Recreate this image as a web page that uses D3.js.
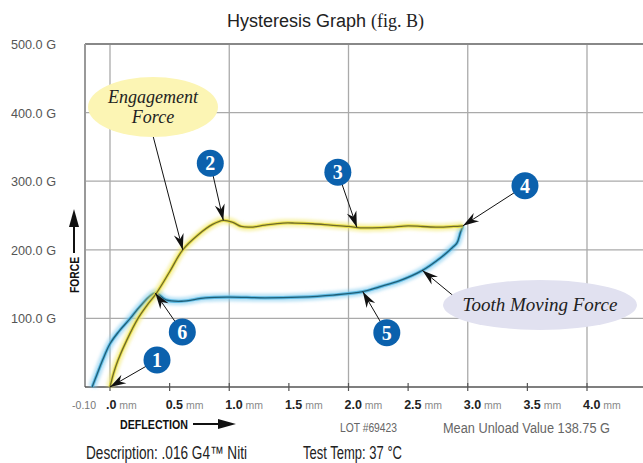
<!DOCTYPE html>
<html><head><meta charset="utf-8">
<script src="https://cdn.jsdelivr.net/npm/d3@7"></script>
<style>body{margin:0;background:#fff}svg{display:block}</style>
</head><body>
<svg id="chart" width="643" height="463"></svg>
<script>
// Loading curve (wire engaging) and unloading curve (tooth moving force)
const loadDeflection = [0, 0.03, 0.067, 0.14, 0.235, 0.31, 0.39, 0.50, 0.61, 0.74, 0.86, 0.95, 1.03, 1.10, 1.18, 1.30, 1.45, 1.55, 1.70, 1.85, 2.00, 2.10, 2.20, 2.35, 2.50, 2.62, 2.75, 2.88, 2.96];
const loadForce      = [0, 20, 39, 68, 100, 119, 137, 168, 200, 222, 237, 243, 240, 234, 233, 236, 239, 239, 238, 236, 234, 232, 232, 233, 235, 234, 233, 234, 235];

const unloadDeflection = [2.96, 2.94, 2.91, 2.87, 2.77, 2.62, 2.43, 2.26, 2.12, 1.87, 1.59, 1.30, 1.00, 0.80, 0.60, 0.47, 0.38, 0.25, 0.17, 0.07, 0.0, -0.06, -0.11, -0.15];
const unloadForce      = [235, 226, 210, 203, 188, 170, 155, 146, 139, 134, 131, 130, 131, 130, 125, 127, 137, 117, 100, 80, 63, 40, 18, 0];

const xTicks = [0, 0.5, 1.0, 1.5, 2.0, 2.5, 3.0, 3.5, 4.0];
const xTickLabels = [".0", "0.5", "1.0", "1.5", "2.0", "2.5", "3.0", "3.5", "4.0"];
const xGrid = [0, 1, 2, 3, 4];
const yTicks = [100, 200, 300, 400, 500];
const yTickLabels = ["100.0 G", "200.0 G", "300.0 G", "400.0 G", "500.0 G"];

// numbered callouts: target point on a curve (deflection, force) + badge offset in px
const calloutNumbers = ["1", "2", "3", "4", "5", "6"];
const calloutTargets = [[0, 0], [0.95, 243], [2.07, 233], [2.96, 235], [2.12, 139], [0.38, 137]];
const calloutOffsets = [[47, -27], [-13, -57], [-19, -55], [62, -40], [24, 41], [27, 39]];

const svg = d3.select("#chart");
const x = d3.scaleLinear().domain([0, 4]).range([110, 587]);
const y = d3.scaleLinear().domain([0, 500]).range([387, 44]);
const left = 85, right = 643;

const defs = svg.append("defs");
const blur = defs.append("filter").attr("id", "glow").attr("x", "-10%").attr("y", "-10%").attr("width", "120%").attr("height", "120%");
blur.append("feGaussianBlur").attr("stdDeviation", 1.6);
defs.append("marker").attr("id", "arrow").attr("markerUnits", "userSpaceOnUse")
  .attr("viewBox", "-17 -6 18 12").attr("markerWidth", 18).attr("markerHeight", 12)
  .attr("refX", 0).attr("refY", 0).attr("orient", "auto")
  .append("path").attr("d", "M0,0 L-16,-5 L-11,0 L-16,5 Z").attr("fill", "#111");

// grid
const grid = svg.append("g");
grid.selectAll("line.h").data(yTicks.slice(0, -1)).join("line")
  .attr("x1", left).attr("x2", right).attr("y1", d => y(d)).attr("y2", d => y(d))
  .attr("stroke", "#aaa").attr("stroke-width", 1.3);
grid.selectAll("line.v").data(xGrid).join("line")
  .attr("x1", d => x(d)).attr("x2", d => x(d)).attr("y1", y(500)).attr("y2", y(0))
  .attr("stroke", "#aaa").attr("stroke-width", 1.3);
// frame
grid.append("line").attr("x1", left).attr("x2", right).attr("y1", y(500)).attr("y2", y(500)).attr("stroke", "#888").attr("stroke-width", 2);
grid.append("line").attr("x1", left).attr("x2", left).attr("y1", y(500)).attr("y2", y(0)).attr("stroke", "#999").attr("stroke-width", 2);
grid.append("line").attr("x1", left).attr("x2", right).attr("y1", y(0)).attr("y2", y(0)).attr("stroke", "#555").attr("stroke-width", 1.5);
grid.selectAll("line.t").data(xTicks).join("line")
  .attr("x1", d => x(d)).attr("x2", d => x(d)).attr("y1", y(0) - 4).attr("y2", y(0) + 4)
  .attr("stroke", "#555").attr("stroke-width", 1.2);

// y labels
svg.append("g").selectAll("text").data(yTicks).join("text")
  .attr("x", 56).attr("y", d => y(d) + 5).attr("text-anchor", "end")
  .attr("font-family", "Liberation Sans, Arial, sans-serif").attr("font-size", 13.5)
  .attr("fill", "#555").attr("textLength", 45).attr("lengthAdjust", "spacingAndGlyphs")
  .text((d, i) => yTickLabels[i]);

// x labels
const xl = svg.append("g").selectAll("text").data(xTicks).join("text")
  .attr("x", d => x(d) - 4).attr("y", 409)
  .attr("font-family", "Liberation Sans, Arial, sans-serif");
xl.append("tspan").attr("font-weight", "bold").attr("font-size", 12.5).attr("fill", "#222").text((d, i) => xTickLabels[i]);
xl.append("tspan").attr("font-size", 10.5).attr("fill", "#888").text(" mm");
svg.append("text").attr("x", 96).attr("y", 409).attr("text-anchor", "end")
  .attr("font-family", "Liberation Sans, Arial, sans-serif").attr("font-size", 10.5).attr("fill", "#777").text("-0.10");

// curves
const line = d3.line().x(d => x(d[0])).y(d => y(d[1])).curve(d3.curveCatmullRom.alpha(0.5));
const loadPts = loadDeflection.map((d, i) => [d, loadForce[i]]);
const unloadPts = unloadDeflection.map((d, i) => [d, unloadForce[i]]);
function drawCurve(pts, glow, mid, core) {
  const g = svg.append("g");
  g.append("path").attr("d", line(pts)).attr("fill", "none").attr("stroke", glow).attr("stroke-width", 8)
    .attr("stroke-opacity", 0.55).attr("filter", "url(#glow)").attr("stroke-linejoin", "round");
  g.append("path").attr("d", line(pts)).attr("fill", "none").attr("stroke", mid).attr("stroke-width", 3.2)
    .attr("stroke-opacity", 0.85).attr("stroke-linejoin", "round");
  g.append("path").attr("d", line(pts)).attr("fill", "none").attr("stroke", core).attr("stroke-width", 1.3)
    .attr("stroke-linejoin", "round");
}
drawCurve(unloadPts, "#7fcbef", "#4fb4e0", "#1f5f78");
drawCurve(loadPts, "#f2ea70", "#e5dc3c", "#6f6a28");

// named callouts
function bubble(cx, cy, rx, ry, fill, lines, fontSize, lineFrom, target) {
  svg.append("line").attr("x1", lineFrom[0]).attr("y1", lineFrom[1])
    .attr("x2", x(target[0])).attr("y2", y(target[1]))
    .attr("stroke", "#111").attr("stroke-width", 1).attr("marker-end", "url(#arrow)");
  svg.append("ellipse").attr("cx", cx).attr("cy", cy).attr("rx", rx).attr("ry", ry).attr("fill", fill);
  lines.forEach((t, i) => {
    svg.append("text").attr("x", cx).attr("y", cy + (i - (lines.length - 1) / 2) * 20 + 6)
      .attr("text-anchor", "middle").attr("font-family", "Liberation Serif, Times New Roman, serif")
      .attr("font-style", "italic").attr("font-size", fontSize).attr("fill", "#222").text(t);
  });
}
bubble(153, 107, 65, 30, "#fcf5b4", ["Engagement", "Force"], 18, [152, 132], [0.61, 200]);
bubble(540, 305, 97, 25, "#e1e1f0", ["Tooth Moving Force"], 19, [456, 298], [2.62, 170]);

// numbered badges
calloutNumbers.forEach((n, i) => {
  const tx = x(calloutTargets[i][0]), ty = y(calloutTargets[i][1]);
  const cx = tx + calloutOffsets[i][0], cy = ty + calloutOffsets[i][1];
  const ang = Math.atan2(ty - cy, tx - cx);
  svg.append("line").attr("x1", cx + 12 * Math.cos(ang)).attr("y1", cy + 12 * Math.sin(ang))
    .attr("x2", tx).attr("y2", ty).attr("stroke", "#111").attr("stroke-width", 1).attr("marker-end", "url(#arrow)");
  svg.append("circle").attr("cx", cx).attr("cy", cy).attr("r", 13.5).attr("fill", "#0b61ad");
  svg.append("text").attr("x", cx).attr("y", cy + 7).attr("text-anchor", "middle")
    .attr("font-family", "Liberation Serif, Times New Roman, serif").attr("font-weight", "bold")
    .attr("font-size", 20).attr("fill", "#fff").text(n);
});

// axis titles with arrows
svg.append("text").attr("transform", "translate(79,293) rotate(-90)")
  .attr("font-family", "Liberation Sans, Arial, sans-serif").attr("font-weight", "bold").attr("font-size", 12)
  .attr("fill", "#111").attr("textLength", 36).attr("lengthAdjust", "spacingAndGlyphs").text("FORCE");
svg.append("line").attr("x1", 74).attr("x2", 74).attr("y1", 253).attr("y2", 224).attr("stroke", "#111").attr("stroke-width", 2);
svg.append("path").attr("d", "M74,209 L69,227 L79,227 Z").attr("fill", "#111");
svg.append("text").attr("x", 120).attr("y", 429)
  .attr("font-family", "Liberation Sans, Arial, sans-serif").attr("font-weight", "bold").attr("font-size", 12)
  .attr("fill", "#111").attr("textLength", 68).attr("lengthAdjust", "spacingAndGlyphs").text("DEFLECTION");
svg.append("line").attr("x1", 193).attr("x2", 220).attr("y1", 424).attr("y2", 424).attr("stroke", "#111").attr("stroke-width", 2);
svg.append("path").attr("d", "M236,424 L218,419 L218,429 Z").attr("fill", "#111");

// title
const title = svg.append("text").attr("x", 227).attr("y", 27).attr("fill", "#222");
title.append("tspan").attr("font-family", "Liberation Sans, Arial, sans-serif").attr("font-size", 18).text("Hysteresis Graph ");
title.append("tspan").attr("font-family", "Liberation Serif, Times New Roman, serif").attr("font-size", 18).text("(fig. B)");

// footer
svg.append("text").attr("x", 340).attr("y", 432).attr("font-family", "Liberation Sans, Arial, sans-serif")
  .attr("font-size", 12).attr("fill", "#666").attr("textLength", 57).attr("lengthAdjust", "spacingAndGlyphs").text("LOT #69423");
svg.append("text").attr("x", 443).attr("y", 433).attr("font-family", "Liberation Sans, Arial, sans-serif")
  .attr("font-size", 14).attr("fill", "#666").attr("textLength", 167).attr("lengthAdjust", "spacingAndGlyphs").text("Mean Unload Value 138.75 G");
svg.append("text").attr("x", 86).attr("y", 459).attr("font-family", "Liberation Sans, Arial, sans-serif")
  .attr("font-size", 18).attr("fill", "#222").attr("textLength", 161).attr("lengthAdjust", "spacingAndGlyphs").text("Description: .016 G4™ Niti");
svg.append("text").attr("x", 303).attr("y", 459).attr("font-family", "Liberation Sans, Arial, sans-serif")
  .attr("font-size", 18).attr("fill", "#222").attr("textLength", 99).attr("lengthAdjust", "spacingAndGlyphs").text("Test Temp: 37 °C");
</script>
</body></html>
